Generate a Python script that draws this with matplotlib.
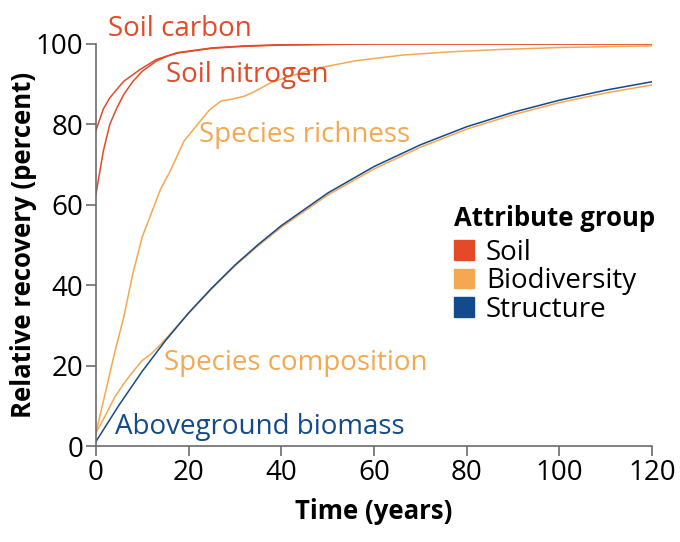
import matplotlib
matplotlib.use("Agg")
import matplotlib.pyplot as plt
from matplotlib.patches import Patch

plt.rcParams['font.family'] = ['Open Sans', 'DejaVu Sans']

SOIL = '#E24A28'
BIO = '#F4A851'
STRUCT = '#134A8C'

# values
carbon_t = [0, 1.6, 3, 6, 9.5, 13, 17.5, 25, 32, 40, 60, 80, 120]
carbon_y = [78.4, 83.8, 86.6, 90.7, 93.6, 96.1, 97.8, 99.0, 99.5, 99.8, 100, 100, 100]

nitrogen_t = [0, 1.6, 3, 4.5, 6, 8, 10, 13, 15.5, 18, 25, 32, 40, 60, 80, 120]
nitrogen_y = [62.5, 73.3, 80, 84, 87.4, 90.7, 93.2, 95.7, 97.0, 97.8, 98.9, 99.4, 99.7, 100, 100, 100]

richness_t = [0, 2, 4, 6, 8, 10, 12.4, 14, 16, 19, 22.5, 24.6, 27, 29.5, 32, 34, 38, 42,
              48, 56, 66, 76, 87, 100, 110, 120]
richness_y = [3.2, 13, 23, 32, 43, 52, 59.2, 64, 68.3, 75.8, 80.8, 83.7, 85.8, 86.3, 87.0, 88.0,
              90.5, 92.0, 94.0, 95.8, 97.2, 98.0, 98.6, 99.1, 99.3, 99.5]

composition_t = [0, 2, 4, 6, 8, 10, 12, 14, 20, 25, 30, 35, 40, 50, 60, 70, 80, 90, 100, 110, 120]
composition_y = [3.2, 7.5, 12, 15.5, 18.5, 21.3, 23, 25.3, 33, 39.1, 44.8, 49.8, 54.4, 62.4, 68.9,
                 74.3, 78.8, 82.4, 85.4, 87.8, 89.8]

biomass_t = [0, 5, 10, 15, 20, 25, 30, 35, 40, 50, 60, 70, 80, 90, 100, 110, 120]
biomass_y = [1.1, 10.2, 18.6, 26.2, 33.1, 39.3, 45.0, 50.1, 54.8, 62.9, 69.5, 74.9, 79.4, 83.0,
             86.0, 88.5, 90.6]

fig = plt.figure(figsize=(6.8, 5.42), dpi=100)
ax = fig.add_axes([0.141, 0.177, 0.818, 0.742])

lw = 1.1
ax.plot(carbon_t, carbon_y, color=SOIL, lw=lw)
ax.plot(nitrogen_t, nitrogen_y, color=SOIL, lw=lw)
ax.plot(richness_t, richness_y, color=BIO, lw=lw)
ax.plot(composition_t, composition_y, color=BIO, lw=lw)
ax.plot(biomass_t, biomass_y, color=STRUCT, lw=lw)

fs = 20
fsb = 18.5
ax.text(2.6, 103.6, 'Soil carbon', color=SOIL, fontsize=fs, va='center', clip_on=False)
ax.text(15.1, 92.3, 'Soil nitrogen', color=SOIL, fontsize=fs, va='center')
ax.text(22.2, 77.4, 'Species richness', color=BIO, fontsize=fs, va='center')
ax.text(14.7, 20.7, 'Species composition', color=BIO, fontsize=fs, va='center')
ax.text(4.1, 4.8, 'Aboveground biomass', color=STRUCT, fontsize=fs, va='center')

ax.set_xlim(0, 120)
ax.set_ylim(0, 100)
ax.set_xticks(range(0, 121, 20))
ax.set_yticks(range(0, 101, 20))
for s in ['top', 'right']:
    ax.spines[s].set_visible(False)
for s in ['left', 'bottom']:
    ax.spines[s].set_color('#6b6b6b')
    ax.spines[s].set_linewidth(1.2)
ax.tick_params(colors='#6b6b6b', length=7, width=1.2, labelsize=fs, labelcolor='black', pad=2)

ax.set_xlabel('Time (years)', fontsize=fsb, fontweight='bold', labelpad=8)
ax.set_ylabel('Relative recovery (percent)', fontsize=fsb, fontweight='bold', labelpad=-1)

handles = [Patch(color=SOIL, label='Soil'), Patch(color=BIO, label='Biodiversity'),
           Patch(color=STRUCT, label='Structure')]
leg = ax.legend(handles=handles, title='Attribute group', loc='upper left',
                bbox_to_anchor=(0.644, 0.6), frameon=False, fontsize=fs,
                handlelength=0.7, handleheight=0.7, handletextpad=0.45,
                labelspacing=0.02, borderaxespad=0, borderpad=0)
leg.get_title().set_fontsize(fsb)
leg.get_title().set_fontweight('bold')
leg._legend_box.align = 'left'
leg._legend_box.sep = 5

fig.savefig('out.png', dpi=100)
